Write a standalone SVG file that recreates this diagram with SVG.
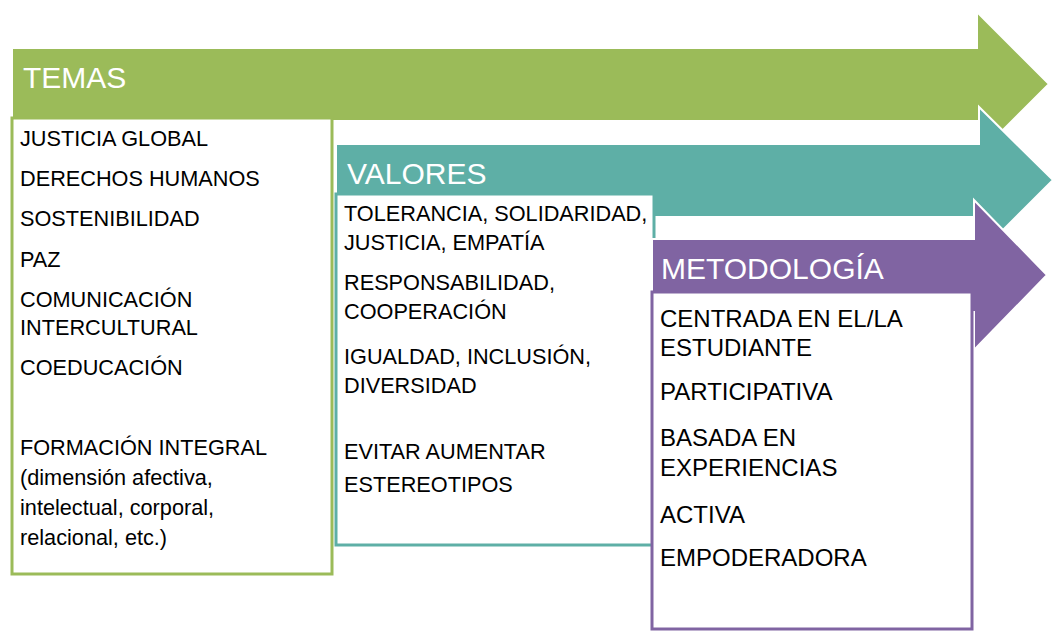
<svg xmlns="http://www.w3.org/2000/svg" width="1058" height="640" viewBox="0 0 1058 640">
<style>
.arrow{stroke:#fff;stroke-width:2;stroke-linejoin:miter}
.g{fill:#9BBB59}.t{fill:#5EAFA6}.p{fill:#8064A2}
.box{fill:#fff;stroke-width:3}
.hd{font-family:"Liberation Sans",Arial,sans-serif;font-size:30px;fill:#fff}
.tx{font-family:"Liberation Sans",Arial,sans-serif;font-size:21.7px;fill:#000}
.tx2{font-family:"Liberation Sans",Arial,sans-serif;font-size:24px;fill:#000}
</style>
<rect width="1058" height="640" fill="#fff"/>
<g id="temas-arrow">
<path class="arrow g" d="M12,48 H977 V12 L1049,84 L977,156 V121 H12 Z"/>
<text class="hd" x="23" y="88">TEMAS</text>
</g>
<g id="temas-box">
<rect class="box" x="12" y="118" width="320" height="456" stroke="#9BBB59"/>
<text class="tx" x="20" y="146">JUSTICIA GLOBAL</text>
<text class="tx" x="20" y="186">DERECHOS HUMANOS</text>
<text class="tx" x="20" y="226">SOSTENIBILIDAD</text>
<text class="tx" x="20" y="267">PAZ</text>
<text class="tx" x="20" y="307">COMUNICACIÓN</text>
<text class="tx" x="20" y="335">INTERCULTURAL</text>
<text class="tx" x="20" y="375">COEDUCACIÓN</text>
<text class="tx" x="20" y="455">FORMACIÓN INTEGRAL</text>
<text class="tx" x="20" y="485">(dimensión afectiva,</text>
<text class="tx" x="20" y="515">intelectual, corporal,</text>
<text class="tx" x="20" y="545">relacional, etc.)</text>
</g>
<g id="valores-arrow">
<path class="arrow t" d="M336,144 H979 V107 L1053,180 L979,254 V217 H336 Z"/>
<text class="hd" x="347" y="184">VALORES</text>
</g>
<g id="valores-box">
<rect class="box" x="336" y="194" width="318" height="351" stroke="#5EAFA6"/>
<text class="tx" x="344" y="221">TOLERANCIA, SOLIDARIDAD,</text>
<text class="tx" x="344" y="250">JUSTICIA, EMPATÍA</text>
<text class="tx" x="344" y="290">RESPONSABILIDAD,</text>
<text class="tx" x="344" y="319">COOPERACIÓN</text>
<text class="tx" x="344" y="364">IGUALDAD, INCLUSIÓN,</text>
<text class="tx" x="344" y="393">DIVERSIDAD</text>
<text class="tx" x="344" y="459">EVITAR AUMENTAR</text>
<text class="tx" x="344" y="492">ESTEREOTIPOS</text>
</g>
<g id="metodologia-arrow">
<path class="arrow p" d="M652,239 H974 V200 L1047,275 L974,350 V312 H652 Z"/>
<text class="hd" x="661" y="279">METODOLOGÍA</text>
</g>
<g id="metodologia-box">
<rect class="box" x="652" y="292" width="320" height="337" stroke="#8064A2"/>
<text class="tx2" x="660" y="327">CENTRADA EN EL/LA</text>
<text class="tx2" x="660" y="356">ESTUDIANTE</text>
<text class="tx2" x="660" y="400">PARTICIPATIVA</text>
<text class="tx2" x="660" y="446">BASADA EN</text>
<text class="tx2" x="660" y="476">EXPERIENCIAS</text>
<text class="tx2" x="660" y="523">ACTIVA</text>
<text class="tx2" x="660" y="566">EMPODERADORA</text>
</g>
</svg>
